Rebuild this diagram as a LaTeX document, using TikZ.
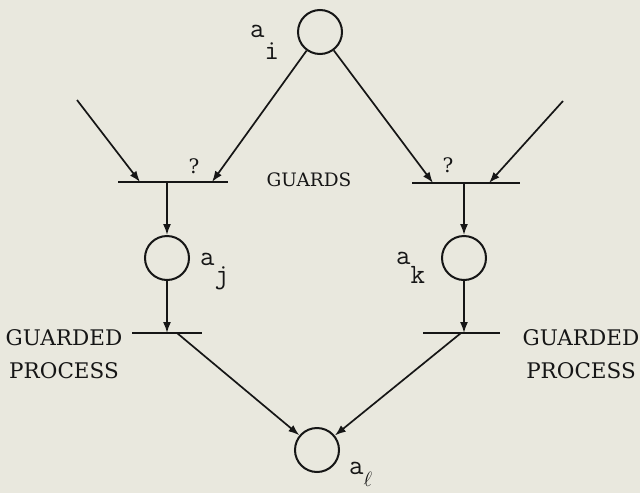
\documentclass[tikz,border=0pt]{standalone}
\usepackage{fontspec}
\newfontfamily\slabfont{DejaVu Serif}
\usetikzlibrary{arrows.meta}
\definecolor{paper}{RGB}{233,232,222}
\definecolor{ink}{RGB}{22,22,22}
\begin{document}
\begin{tikzpicture}[x=1pt,y=-1pt,
  place/.style={circle,draw=ink,line width=2pt,minimum size=44pt,inner sep=0pt},
  bar/.style={draw=ink,line width=2.6pt,line cap=butt},
  arc/.style={draw=ink,line width=1.7pt,-{Latex[length=11pt,width=8pt]}},
  lbl/.style={inner sep=0pt,anchor=base west,text=ink,font=\fontsize{28}{28}\selectfont\ttfamily},
  txt/.style={inner sep=0pt,text=ink,font=\fontsize{21.5}{33}\selectfont\slabfont,align=center},
  q/.style={inner sep=0pt,text=ink,font=\fontsize{20}{20}\selectfont\slabfont}]
\fill[paper] (0,0) rectangle (640,493);
\useasboundingbox (0,0) rectangle (640,493);
% places
\node[place] (ai) at (320,32) {};
\node[place] (aj) at (167,258) {};
\node[place] (ak) at (464,258) {};
\node[place] (al) at (317,450) {};
% labels
\node[lbl] (lai) at (250,37) {a\raisebox{-22pt}{i}};
\node[lbl] (laj) at (200,265) {a\raisebox{-18pt}{j}};
\node[lbl] (lak) at (396,264) {a\raisebox{-19pt}{k}};
\node[lbl] (lal) at (349,474) {a\raisebox{-12pt}{\fontsize{21}{21}\selectfont$\ell$}};
% transition bars
\coordinate (tla) at (118,182); \coordinate (tlb) at (228,182);
\coordinate (tra) at (412,183); \coordinate (trb) at (520,183);
\coordinate (bla) at (132,333); \coordinate (blb) at (202,333);
\coordinate (bra) at (423,333); \coordinate (brb) at (500,333);
% connector end points on bars
\coordinate (s1) at (77,100);
\coordinate (s2) at (563,101);
\coordinate (tl1) at (140,182);
\coordinate (tl2) at (212,182);
\coordinate (tlo) at (167,182);
\coordinate (tr1) at (433,183);
\coordinate (tr2) at (489,183);
\coordinate (tro) at (464,183);
\coordinate (bli) at (167,333);
\coordinate (blo) at (177,333);
\coordinate (bri) at (464,333);
\coordinate (bro) at (461,333);
% arcs
\draw[arc] (s1) -- (tl1);
\draw[arc] (ai) -- (tl2);
\draw[arc] (ai) -- (tr1);
\draw[arc] (s2) -- (tr2);
\draw[arc] (tlo) -- (aj);
\draw[arc] (aj) -- (bli);
\draw[arc] (tro) -- (ak);
\draw[arc] (ak) -- (bri);
\draw[arc] (blo) -- (al);
\draw[arc] (bro) -- (al);
% bars
\draw[bar] (tla) -- (tlb);
\draw[bar] (tra) -- (trb);
\draw[bar] (bla) -- (blb);
\draw[bar] (bra) -- (brb);
% texts
\node[q] (q1) at (194,166) {?};
\node[q] (q2) at (448,165) {?};
\node[txt,font=\fontsize{18.5}{18.5}\selectfont\slabfont] (gs) at (309,180) {GUARDS};
\node[txt,anchor=north] (gl) at (64,329) {GUARDED\\PROCESS};
\node[txt,anchor=north] (gr) at (581,329) {GUARDED\\PROCESS};
\end{tikzpicture}
\end{document}
